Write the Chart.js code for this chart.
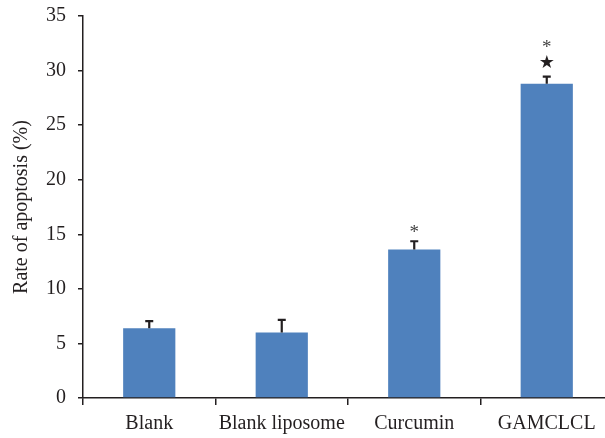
<!DOCTYPE html>
<html><head><meta charset="utf-8">
<script src="https://cdn.jsdelivr.net/npm/chart.js@4"></script>
<style>
html,body{margin:0;padding:0;background:#fff;overflow:hidden;width:605px;height:438px;}
#wrap{width:613px;height:438px;}
</style></head>
<body><div id="wrap"><canvas id="c" width="613" height="438"></canvas></div>
<script>
const categories = ['Blank', 'Blank liposome', 'Curcumin', 'GAMCLCL'];
const rates = [6.4, 6.0, 13.6, 28.8];
const errors = [0.65, 1.15, 0.76, 0.64];
const marks = [[], [], ['*'], ['★', '*']];
const yTicks = [0, 5, 10, 15, 20, 25, 30, 35];

const ink = '#231f20';
const serif = "'Liberation Serif', 'Times New Roman', serif";

const errorPlugin = {
  id: 'errs',
  afterDatasetsDraw(chart) {
    const ctx = chart.ctx;
    const meta = chart.getDatasetMeta(0);
    const y = chart.scales.y;
    ctx.save();
    meta.data.forEach((bar, i) => {
      const x = bar.x;
      const top = y.getPixelForValue(rates[i]);
      const et = y.getPixelForValue(rates[i] + errors[i]);
      ctx.strokeStyle = ink;
      ctx.lineWidth = 2.2;
      ctx.beginPath();
      ctx.moveTo(x, top);
      ctx.lineTo(x, et);
      ctx.moveTo(x - 4, et);
      ctx.lineTo(x + 4, et);
      ctx.stroke();
      let yy = et;
      marks[i].forEach(m => {
        if (m === '★') {
          yy -= 13;
          ctx.font = "18px 'DejaVu Sans'";
          ctx.fillStyle = ink;
        } else {
          yy -= (marks[i].length > 1 ? 20 : 12);
          ctx.font = "19px " + serif;
          ctx.fillStyle = '#444';
        }
        ctx.textAlign = 'center';
        ctx.textBaseline = 'middle';
        ctx.fillText(m, x, yy + (m === '*' ? 4 : 0));
      });
    });
    ctx.restore();
  }
};

new Chart(document.getElementById('c'), {
  type: 'bar',
  data: {
    labels: categories,
    datasets: [{
      data: rates,
      backgroundColor: '#4f81bd',
      barPercentage: 0.394,
      categoryPercentage: 1.0
    }]
  },
  options: {
    responsive: false,
    animation: false,
    layout: { padding: { top: 15, left: 0, right: 0, bottom: 0 } },
    plugins: { legend: { display: false }, tooltip: { enabled: false } },
    scales: {
      x: {
        offset: true,
        grid: { display: true, offset: true, drawOnChartArea: false, tickLength: 7, color: ink, lineWidth: 1.5 },
        border: { display: true, color: ink, width: 1.5 },
        ticks: { color: ink, font: { family: serif, size: 20 }, padding: 7, maxRotation: 0 },
        afterFit(s) { s.height = 40; }
      },
      y: {
        min: 0, max: 35,
        afterBuildTicks(s) { s.ticks = yTicks.map(v => ({ value: v })); },
        grid: { display: true, drawOnChartArea: false, tickLength: 5, color: ink, lineWidth: 1.5 },
        border: { display: true, color: ink, width: 1.5 },
        ticks: { color: ink, font: { family: serif, size: 20, lineHeight: 0.4 }, padding: 12 },
        title: { display: true, text: 'Rate of apoptosis (%)', color: ink, font: { family: serif, size: 20 }, padding: { top: 10, bottom: 0 } },
        afterFit(s) { s.width = 83; }
      }
    }
  },
  plugins: [errorPlugin]
});
</script></body></html>
